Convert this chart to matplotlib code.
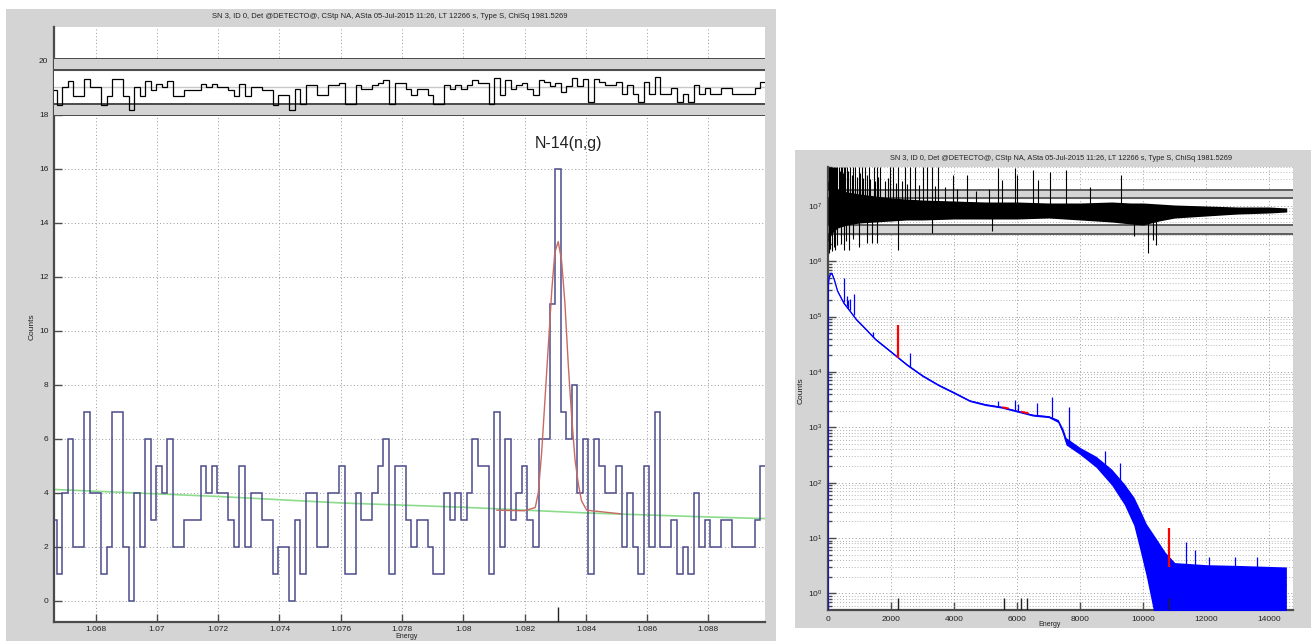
import numpy as np
import matplotlib
matplotlib.use('Agg')
import matplotlib.pyplot as plt
from matplotlib.patches import Rectangle
from matplotlib.ticker import FixedLocator, LogFormatterMathtext, NullFormatter
import matplotlib.transforms as mtransforms

plt.rcParams['font.family'] = ['Liberation Sans', 'DejaVu Sans']

# ---------------- data: left panel (zoom on N-14 peak) ----------------
title_text = "SN 3, ID 0, Det @DETECTO@, CStp NA, ASta 05-Jul-2015 11:26, LT 12266 s, Type S, ChiSq 1981.5269"
first_bin_edge = 1.066546      # energy (x10^4 keV) of the first bin edge
bin_width = 0.0001808
counts = [3, 1, 4, 6, 2, 2, 7, 4, 4, 1,
          2, 7, 7, 2, 0, 4, 2, 6, 3, 5,
          4, 6, 2, 2, 3, 3, 3, 5, 4, 5,
          4, 4, 3, 2, 5, 2, 4, 4, 3, 3,
          1, 2, 2, 0, 3, 1, 4, 4, 2, 2,
          4, 4, 5, 1, 1, 4, 3, 3, 4, 5,
          6, 1, 5, 5, 3, 2, 3, 3, 2, 1,
          1, 4, 3, 4, 3, 4, 6, 5, 5, 1,
          7, 2, 6, 3, 4, 5, 3, 2, 6, 6,
          11, 16, 7, 6, 8, 4, 6, 1, 6, 5,
          4, 4, 5, 2, 4, 2, 1, 5, 2, 7,
          2, 2, 3, 1, 2, 1, 4, 2, 3, 2,
          2, 3, 3, 2, 2, 2, 2, 3, 5]
# residual strip, read in pixels above (+) / below (-) its grey centre line
residual_left = [-3, -18, 0.5, 6, -9, -9, 8, 0.5, 0.5, -18,
                 -9, 8, 8, -9, -23, 0.5, -9, 6, -3, 3.5,
                 0.5, 6, -9, -9, -3, -3, -3, 3.5, 0.5, 3.5,
                 0.5, 0.5, -3, -9, 3.5, -9, 0.5, 0.5, -3, -3,
                 -18, -8, -8, -23, -2, -17, 2, 2, -8, -8,
                 2, 2, 4.5, -17, -17, 2, -2, -2, 2, 4.5,
                 7, -17, 4.5, 4.5, -2, -8, -2, -2, -8, -17,
                 -17, 2, -2, 2, -2, 2, 7, 4.5, 4.5, -17,
                 9, -8, 7, -2, 2, 4.5, -1.5, -8, 7, 5.5,
                 1, 4.5, -5, 1, 9.5, 1.5, 8, -15, 8, 5.5,
                 2.5, 2.5, 5.5, -7, 2.5, -7, -15, 5.5, -7, 10,
                 -7, -7, -0.5, -15, -7, -15, 2.5, -7, -0.5, -7,
                 -7, -0.5, -0.5, -7, -7, -7, -7, -0.5, 5.5]
bg_x = [1.06664, 1.072, 1.076, 1.080, 1.084, 1.088, 1.08985]
bg_y = [4.12, 3.86, 3.62, 3.46, 3.25, 3.10, 3.04]
fit_x = [1.0811, 1.0820, 1.08235, 1.08245, 1.08256, 1.08267, 1.08278, 1.08289, 1.08299,
         1.0831, 1.08321, 1.08332, 1.08343, 1.08354, 1.08365, 1.08376, 1.08386, 1.08403, 1.08512]
fit_y = [3.35, 3.33, 3.45, 4.0, 5.5, 7.5, 9.5, 11.5, 12.9,
         13.3, 12.6, 11.0, 8.7, 6.8, 5.2, 4.3, 3.7, 3.35, 3.22]
peak_label = "N-14(n,g)"
peak_label_pos = (1.08342, 16.95)
left_marker_x = [1.0831]
left_xticks = [1.068, 1.070, 1.072, 1.074, 1.076, 1.078, 1.080, 1.082, 1.084, 1.086, 1.088]
left_xticklabels = ['1.068', '1.07', '1.072', '1.074', '1.076', '1.078', '1.08', '1.082', '1.084', '1.086', '1.088']
left_yticks = [0, 2, 4, 6, 8, 10, 12, 14, 16, 18, 20]

# ---------------- data: right panel (full spectrum) ----------------
spec_E = [0, 8, 15, 40, 80, 120, 200, 300, 500, 700, 900, 1200, 1500, 2000, 2500, 3000, 3500,
          4000, 4500, 5000, 5500, 6000, 6500, 7000, 7300, 7450, 7550, 8000, 8500, 9000, 9400,
          9700, 9900, 10100, 10400, 10700, 11000, 12000, 13000, 14540]
spec_mid = [0.3, 2e5, 4.2e5, 5.2e5, 6e5, 6e5, 4.6e5, 2.9e5, 1.75e5, 1.25e5, 8.8e4, 5.9e4, 3.9e4,
            2.3e4, 1.35e4, 8.5e3, 5.8e3, 4.2e3, 3.0e3, 2.55e3, 2.3e3, 1.95e3, 1.65e3, 1.55e3,
            1.3e3, 850, 560, 370, 240, 126, 63, 32, 16, 9, 5.2, 2.5, 1.5, 1.4, 1.4, 1.4]
spec_lo = [0.3, 1.95e5, 4.05e5, 5.0e5, 5.8e5, 5.8e5, 4.45e5, 2.8e5, 1.69e5, 1.21e5, 8.5e4, 5.7e4, 3.76e4,
           2.22e4, 1.3e4, 8.2e3, 5.6e3, 4.05e3, 2.9e3, 2.46e3, 2.22e3, 1.88e3, 1.59e3, 1.49e3,
           1.22e3, 760, 480, 320, 190, 90, 40, 17, 6, 2, 0.3, 0.3, 0.3, 0.3, 0.3, 0.3]
spec_hi = [0.3, 2.05e5, 4.35e5, 5.4e5, 6.2e5, 6.2e5, 4.75e5, 3.0e5, 1.81e5, 1.29e5, 9.1e4, 6.1e4, 4.04e4,
           2.38e4, 1.4e4, 8.8e3, 6.0e3, 4.35e3, 3.1e3, 2.64e3, 2.38e3, 2.02e3, 1.71e3, 1.61e3,
           1.38e3, 950, 650, 430, 300, 175, 95, 55, 32, 18, 10, 5.5, 3.6, 3.3, 3.2, 3.0]
spike_E = [495, 600, 650, 706, 830, 1420, 2600, 5390, 5920, 6025, 6615, 7090, 7630, 8780, 9270,
           10412, 11350, 11650, 12100, 12900, 13600]
spike_base = [1.8e5, 1.55e5, 1.45e5, 1.3e5, 1.05e5, 4.2e4, 1.25e4, 2.35e3, 2.0e3, 1.95e3, 1.6e3,
              1.5e3, 520, 200, 80, 3, 3, 3, 3, 3, 3]
spike_top = [4.9e5, 2.3e5, 2.0e5, 2.1e5, 2.6e5, 5.2e4, 2.2e4, 3.0e3, 3.1e3, 2.6e3, 2.8e3,
             3.5e3, 2.3e3, 370, 230, 8.5, 8.5, 6, 4.5, 4.5, 4.5]
fit_peak_E = [2206, 10829]
fit_peak_lo = [1.8e4, 3.0]
fit_peak_hi = [7.0e4, 15.0]
fit_seg_E = [[5560, 5700], [6150, 6330]]
fit_seg_C = [[2.28e3, 2.2e3], [1.9e3, 1.8e3]]
right_marker_E = [2223, 5590, 6107, 6318, 10829]
right_xticks = [0, 2000, 4000, 6000, 8000, 10000, 12000, 14000]
right_yticks = [1e0, 1e1, 1e2, 1e3, 1e4, 1e5, 1e6, 1e7]

# right residual (pixel offsets from the residual centre line, positive = up)
res_E = [0, 100, 300, 600, 1000, 1500, 2000, 2500, 3000, 4000, 5000, 6000, 7000, 8000,
         9000, 9600, 10000, 10500, 11000, 12000, 13000, 14000, 14550]
res_hi = [30, 27, 22, 19, 17, 15, 13, 12, 11, 10, 9, 9, 8, 8, 9, 8, 8, 7, 6, 5, 4, 4, 3]
res_lo = [-30, -23, -17, -14, -12, -11, -10, -9, -9, -8, -8, -8, -7, -9, -11, -13, -14, -10,
          -7, -5, -3, -2, -1]
res_up_E = [20, 60, 90, 126, 150, 180, 231, 260, 290, 337, 380, 410, 442, 470, 520, 548, 600,
            650, 706, 750, 800, 864, 920, 970, 1020, 1075, 1120, 1181, 1230, 1286, 1340, 1444,
            1490, 1550, 1600, 1655, 1800, 1900, 1972, 2077, 2150, 2235, 2350, 2447, 2500, 2605,
            2763, 2900, 3027, 3132, 3291, 3400, 3501, 3700, 3976, 4100, 4398, 4700, 5100, 5401,
            5506, 5928, 5981, 6508, 6667, 7036, 7563, 8300, 9304]
res_up_top = [44, 44, 44, 44, 44, 44, 44, 44, 44, 44, 40, 44, 44, 38, 44, 44, 44,
              40, 44, 36, 44, 44, 34, 44, 38, 44, 33, 44, 36, 44, 32, 44,
              30, 44, 34, 44, 30, 33, 44, 44, 28, 44, 30, 44, 27, 44,
              44, 26, 44, 44, 44, 25, 44, 24, 36, 22, 36, 20, 22, 43,
              31, 43, 36, 41, 31, 39, 41, 24, 36]
res_dn_E = [20, 60, 120, 180, 231, 280, 400, 495, 560, 653, 800, 970, 1234, 1391, 1550, 2235,
            3300, 5200, 9700, 10150, 10307, 10391]
res_dn_bot = [-42, -38, -40, -36, -39, -34, -33, -39, -30, -39, -28, -36, -32, -32, -32, -39,
              -22, -20, -25, -42, -29, -34]

# ---------------- figure ----------------
W, H = 1311, 641
fig = plt.figure(figsize=(W / 100, H / 100), dpi=100)
fig.patch.set_facecolor('white')
PANEL = '#d4d4d4'
SPINE = '#4a4a4a'
GRIDC = '#9a9a9a'


def px_axes(l, t, r, b, **kw):
    return fig.add_axes([l / W, 1 - b / H, (r - l) / W, (b - t) / H], **kw)


def px_rect(l, t, r, b, color, z=-5):
    fig.add_artist(Rectangle((l / W, 1 - b / H), (r - l) / W, (b - t) / H,
                             transform=fig.transFigure, facecolor=color,
                             edgecolor='none', zorder=z))


px_rect(6, 9, 776, 641, PANEL)
px_rect(795, 150, 1311, 628, PANEL)

fig.text(390 / W, 1 - 17 / H, title_text, ha='center', va='center', fontsize=5.5, color='#222222')
fig.text(1061 / W, 1 - 159 / H, title_text, ha='center', va='center', fontsize=5.3, color='#222222')


def style_axes(ax, xpad=4):
    for s in ['top', 'right']:
        ax.spines[s].set_visible(False)
    for s in ['left', 'bottom']:
        ax.spines[s].set_color(SPINE)
        ax.spines[s].set_linewidth(1.6)
    ax.tick_params(which='both', direction='in', colors=SPINE, labelcolor='#222222',
                   labelsize=6, width=1.0)
    ax.tick_params(which='major', length=6)
    ax.tick_params(which='minor', length=3)
    ax.tick_params(axis='x', pad=xpad)
    ax.tick_params(axis='y', pad=4)


# ----- left main axes -----
axL = px_axes(54, 27, 765, 622)
style_axes(axL, xpad=3)
edges = first_bin_edge + bin_width * np.arange(len(counts) + 1)
axL.grid(True, ls=(0, (1, 2.5)), color=GRIDC, lw=0.7)
axL.stairs(counts, edges, baseline=None, color='#4c4c8c', lw=1.1, zorder=3)
axL.plot(bg_x, bg_y, color='#8cdc8c', lw=1.2, zorder=2)
axL.plot(fit_x, fit_y, color='#c86a62', lw=1.0, zorder=4)
axL.set_xlim(1.06664, 1.08985)
axL.set_ylim(-0.79, 21.25)
axL.set_xticks(left_xticks)
axL.set_xticklabels(left_xticklabels)
axL.set_yticks(left_yticks)
axL.text(*peak_label_pos, peak_label, ha='center', va='center', fontsize=11.5, color='#222222')
trL = mtransforms.blended_transform_factory(axL.transData, axL.transAxes)
axL.vlines(left_marker_x, 0, 0.025, transform=trL, color='#222222', lw=1.0, zorder=5)
fig.text(32 / W, 1 - 327 / H, 'Counts', rotation=90, ha='center', va='center', fontsize=6, color='#222222')
fig.text(407 / W, 1 - 640.5 / H, 'Energy', ha='center', va='bottom', fontsize=5, color='#222222')

# ----- left residual overlay -----
rL = px_axes(54, 58, 765, 116)
rL.set_xlim(axL.get_xlim())
rL.set_ylim(-29, 29)
rL.patch.set_visible(False)
rL.axis('off')
rL.axhspan(17, 29, color=PANEL, zorder=1)
rL.axhspan(-29, -17, color=PANEL, zorder=1)
rL.axhspan(-17, 17, color='white', zorder=0.5)
for yv in [29, 17, -17, -29]:
    rL.axhline(yv, color=SPINE, lw=1.4, zorder=2)
rL.axhline(0, color='#c8c8c8', lw=1.0, zorder=2)
rL.stairs(residual_left, edges, baseline=None, color='black', lw=0.9, zorder=3)

# ----- right main axes -----
axR = px_axes(828, 167, 1293, 610)
style_axes(axR)
axR.set_yscale('log')
axR.set_xlim(0, 14750)
axR.set_ylim(10 ** -0.30, 10 ** 7.70)
axR.yaxis.set_major_locator(FixedLocator(right_yticks))
axR.yaxis.set_major_formatter(LogFormatterMathtext())
minor_y = [m * d for d in [1e-1, 1e0, 1e1, 1e2, 1e3, 1e4, 1e5, 1e6, 1e7] for m in range(2, 10)
           if 10 ** -0.30 < m * d < 10 ** 7.70]
axR.yaxis.set_minor_locator(FixedLocator(minor_y))
axR.yaxis.set_minor_formatter(NullFormatter())
axR.set_xticks(right_xticks)
axR.grid(True, which='major', ls=(0, (1, 2.5)), color=GRIDC, lw=0.7)
axR.grid(True, which='minor', axis='y', ls=(0, (1, 2.5)), color=GRIDC, lw=0.6)
axR.fill_between(spec_E, spec_lo, spec_hi, color='#0000ff', lw=0, zorder=3)
axR.plot(spec_E, spec_mid, color='#0000ff', lw=0.9, zorder=3)
axR.vlines(spike_E, spike_base, spike_top, color='#0000ff', lw=0.9, zorder=3)
axR.vlines(fit_peak_E, fit_peak_lo, fit_peak_hi, color='#ff0000', lw=1.6, zorder=4)
for e, c in zip(fit_seg_E, fit_seg_C):
    axR.plot(e, c, color='#ff0000', lw=1.4, zorder=4)
trR = mtransforms.blended_transform_factory(axR.transData, axR.transAxes)
axR.vlines(right_marker_E, 0, 0.027, transform=trR, color='#222222', lw=1.0, zorder=5)
fig.text(801 / W, 1 - 391 / H, 'Counts', rotation=90, ha='center', va='center', fontsize=6, color='#222222')
fig.text(1050 / W, 1 - 627.5 / H, 'Energy', ha='center', va='bottom', fontsize=5, color='#222222')

# ----- right residual overlay -----
rR = px_axes(828, 167, 1293, 258)
rR.set_xlim(axR.get_xlim())
rR.set_ylim(-47, 44)
rR.patch.set_visible(False)
rR.axis('off')
rR.axhspan(13, 21, color=PANEL, zorder=1)
rR.axhspan(-23, -14, color=PANEL, zorder=1)
for yv in [21, 13, -14, -23]:
    rR.axhline(yv, color=SPINE, lw=1.2, zorder=2)
rR.fill_between(res_E, res_lo, res_hi, color='black', lw=0, zorder=3)
rR.vlines(res_up_E, 0, res_up_top, color='black', lw=0.8, zorder=3)
rR.vlines(res_dn_E, res_dn_bot, 0, color='black', lw=0.8, zorder=3)

fig.savefig('out.png', dpi=100, facecolor='white')
